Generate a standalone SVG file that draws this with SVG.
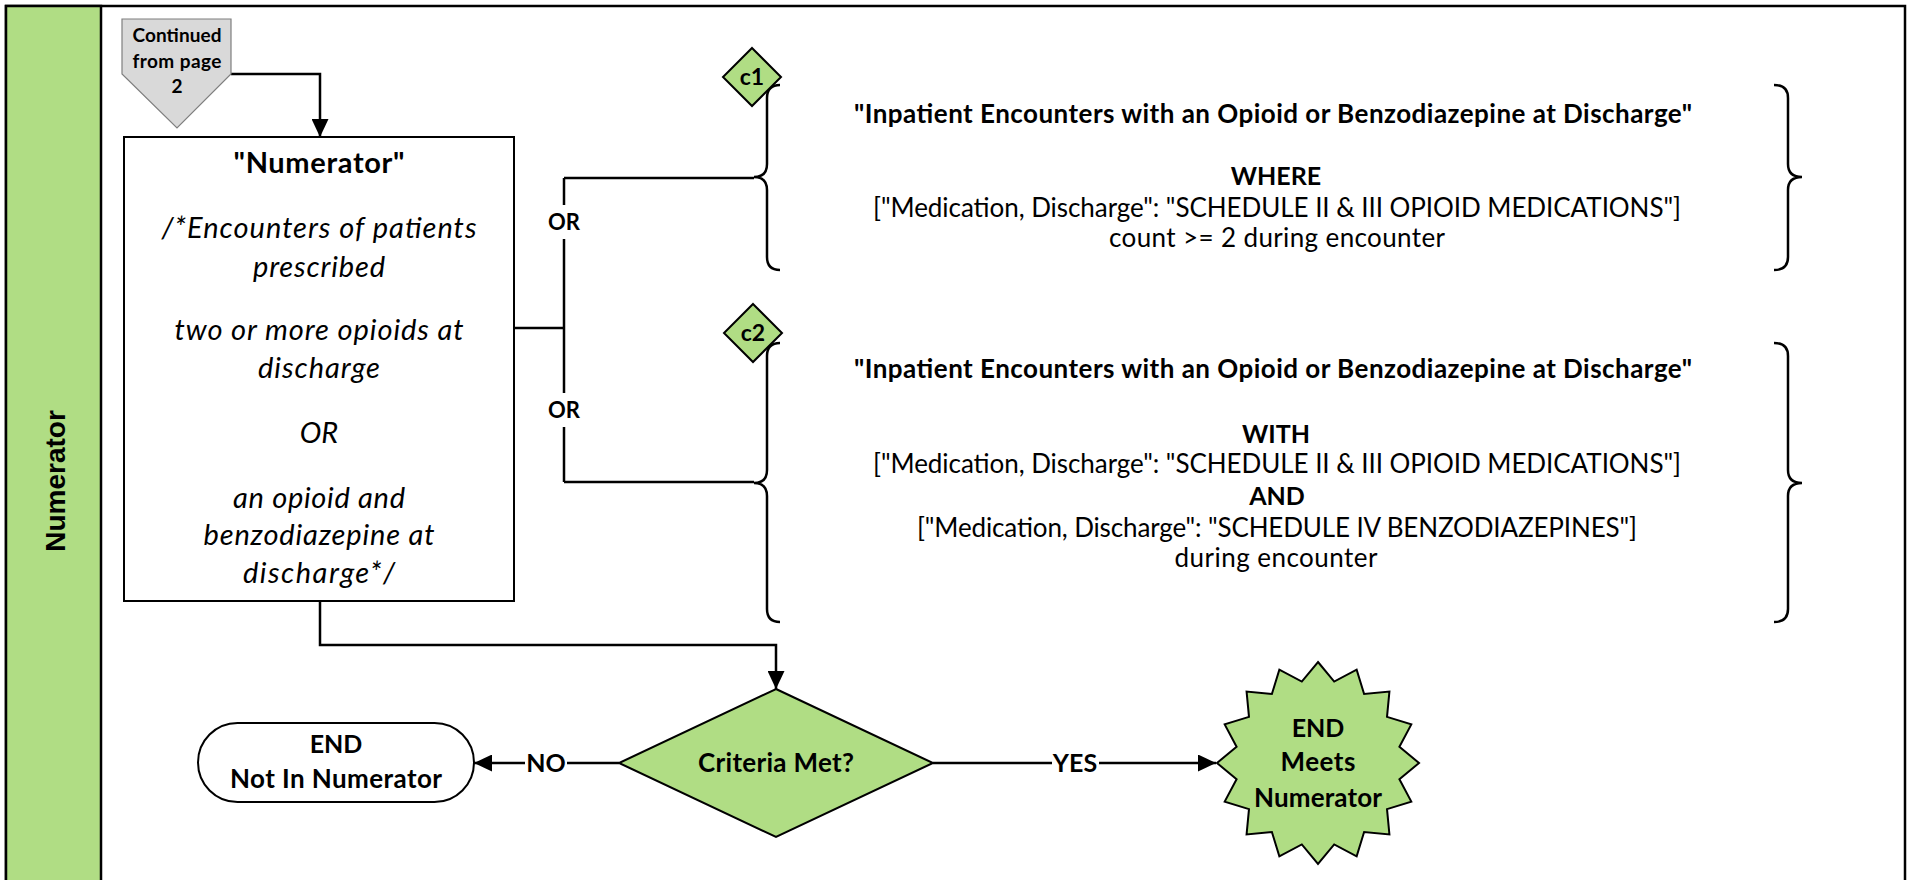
<svg xmlns="http://www.w3.org/2000/svg" width="1912" height="880" viewBox="0 0 1912 880">
<defs>
<style>
text{font-family:Lato,"Liberation Sans",sans-serif;fill:#000;text-anchor:middle}
.b{font-weight:bold}
.i{font-style:italic}
.t{font-size:26px}
.ln{fill:none;stroke:#000;stroke-width:2.5}
.sh{stroke:#000;stroke-width:2}
.g{fill:#b0dd84}
</style>
<marker id="ah" markerUnits="userSpaceOnUse" markerWidth="18" markerHeight="17" refX="18" refY="8.5" orient="auto">
<path d="M0,0 L18,8.5 L0,17 z" fill="#000"/>
</marker>
</defs>
<rect width="1912" height="880" fill="#fff"/>
<g id="lane">
<rect x="6" y="6" width="1899" height="950" fill="#fff" stroke="#000" stroke-width="2.5"/>
<rect x="6" y="6" width="95" height="950" class="g" stroke="#000" stroke-width="2.5"/>
<text class="b" font-size="28" style="font-family:'Liberation Sans',Arial,sans-serif" transform="translate(65,481) rotate(-90)">Numerator</text>
</g>
<g id="connectors">
<path class="ln" d="M231,74 H320 V137" marker-end="url(#ah)"/>
<path class="ln" d="M514,328 H564"/>
<path class="ln" d="M564,178 V482"/>
<path class="ln" d="M564,178 H754"/>
<path class="ln" d="M564,482 H754"/>
<path class="ln" d="M320,601 V645 H776 V689" marker-end="url(#ah)"/>
<path class="ln" d="M619,763 H474" marker-end="url(#ah)"/>
<path class="ln" d="M933,763 H1216" marker-end="url(#ah)"/>
<rect x="546" y="205" width="36" height="34" fill="#fff"/>
<text class="b" font-size="22" x="564" y="230">OR</text>
<rect x="546" y="393" width="36" height="34" fill="#fff"/>
<text class="b" font-size="22" x="564" y="418">OR</text>
<rect x="525" y="748" width="42" height="30" fill="#fff"/>
<text class="b" font-size="25" x="546" y="772">NO</text>
<rect x="1052" y="748" width="47" height="30" fill="#fff"/>
<text class="b" font-size="25" x="1075" y="772">YES</text>
</g>
<g id="offpage">
<polygon points="122,19 231,19 231,74 177,128 122,74" fill="#d9d9d9" stroke="#7f7f7f" stroke-width="1.2"/>
<text class="b" font-size="19" x="177" y="42" textLength="89">Continued</text>
<text class="b" font-size="19" x="177" y="68" textLength="89">from page</text>
<text class="b" font-size="19" x="177" y="93">2</text>
</g>
<g id="numerator">
<rect x="124" y="137" width="390" height="464" fill="#fff" class="sh"/>
<text class="b" font-size="29" x="319" y="173" textLength="171">"Numerator"</text>
<g class="i" font-size="29">
<text x="319" y="238" textLength="315">/*Encounters of patients</text>
<text x="319" y="277" textLength="132">prescribed</text>
<text x="319" y="340" textLength="289">two or more opioids at</text>
<text x="319" y="378" textLength="122">discharge</text>
<text x="319" y="443">OR</text>
<text x="319" y="508" textLength="172">an opioid and</text>
<text x="319" y="545" textLength="231">benzodiazepine at</text>
<text x="319" y="583" textLength="152">discharge*/</text>
</g>
</g>
<g id="c1">
<path class="ln" d="M780,85 Q767,85 767,98 V164 Q767,177 754,177 Q767,177 767,190 V257 Q767,270 780,270"/>
<polygon points="752,48 781,77 752,106 723,77" class="g sh"/>
<text class="b" font-size="23" x="752" y="85">c1</text>
<path class="ln" d="M1774,85 Q1788,85 1788,98 V164 Q1788,177 1802,177 Q1788,177 1788,190 V257 Q1788,270 1774,270"/>
<text class="b t" x="1273" y="123" textLength="838">"Inpatient Encounters with an Opioid or Benzodiazepine at Discharge"</text>
<text class="b" font-size="25" x="1276" y="185">WHERE</text>
<text class="t" x="1277" y="217" textLength="808">["Medication, Discharge": "SCHEDULE II &amp; III OPIOID MEDICATIONS"]</text>
<text class="t" x="1277" y="247" textLength="336">count &gt;= 2 during encounter</text>
</g>
<g id="c2">
<path class="ln" d="M780,343 Q767,343 767,356 V470 Q767,483 754,483 Q767,483 767,496 V609 Q767,622 780,622"/>
<polygon points="753,304 782,333 753,362 724,333" class="g sh"/>
<text class="b" font-size="23" x="753" y="341">c2</text>
<path class="ln" d="M1774,343 Q1788,343 1788,356 V470 Q1788,483 1802,483 Q1788,483 1788,496 V609 Q1788,622 1774,622"/>
<text class="b t" x="1273" y="378" textLength="838">"Inpatient Encounters with an Opioid or Benzodiazepine at Discharge"</text>
<text class="b" font-size="25" x="1276" y="443">WITH</text>
<text class="t" x="1277" y="473" textLength="808">["Medication, Discharge": "SCHEDULE II &amp; III OPIOID MEDICATIONS"]</text>
<text class="b" font-size="25" x="1277" y="505">AND</text>
<text class="t" x="1277" y="537" textLength="720">["Medication, Discharge": "SCHEDULE IV BENZODIAZEPINES"]</text>
<text class="t" x="1276" y="567" textLength="203">during encounter</text>
</g>
<g id="decision">
<polygon points="776,689 933,763 776,837 619,763" class="g sh"/>
<text class="b t" x="776" y="772" textLength="156">Criteria Met?</text>
</g>
<g id="end-not">
<rect x="198" y="723" width="276" height="79" rx="39.5" fill="#fff" class="sh"/>
<text class="b" font-size="25" x="336" y="753">END</text>
<text class="b t" x="336" y="788" textLength="212">Not In Numerator</text>
</g>
<g id="end-meets">
<polygon class="g sh" points="1318,662 1334.19,681.59 1356.65,669.69 1364.11,693.99 1389.42,691.58 1387.01,716.89 1411.31,724.35 1399.41,746.81 1419,763 1399.41,779.19 1411.31,801.65 1387.01,809.11 1389.42,834.42 1364.11,832.01 1356.65,856.31 1334.19,844.41 1318,864 1301.81,844.41 1279.35,856.31 1271.89,832.01 1246.58,834.42 1248.99,809.11 1224.69,801.65 1236.59,779.19 1217,763 1236.59,746.81 1224.69,724.35 1248.99,716.89 1246.58,691.58 1271.89,693.99 1279.35,669.69 1301.81,681.59"/>
<text class="b" font-size="25" x="1318" y="737">END</text>
<text class="b t" x="1318" y="771" textLength="75">Meets</text>
<text class="b t" x="1318" y="807" textLength="128">Numerator</text>
</g>
</svg>
